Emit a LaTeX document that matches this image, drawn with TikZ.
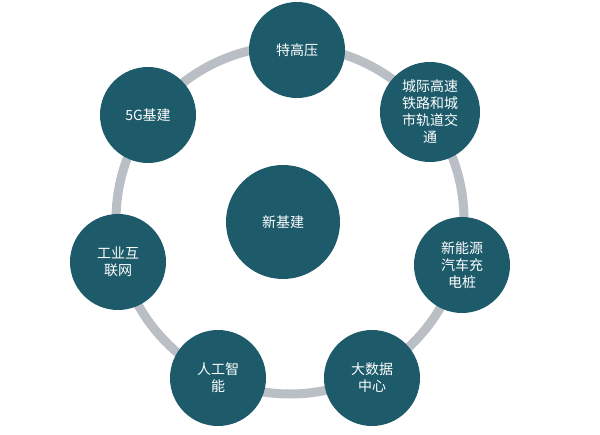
\documentclass[tikz,border=0pt]{standalone}
\usepackage{fontspec}
\setmainfont{Noto Sans CJK SC}
\definecolor{teal}{HTML}{1D5B6B}
\definecolor{ring}{HTML}{B9BFC4}
\tikzset{bub/.style={circle,fill=teal,text=white,minimum size=96pt,inner sep=0pt,align=center,font=\fontsize{14}{17}\selectfont}}
\begin{document}
\begin{tikzpicture}[x=1pt,y=-1pt]
\useasboundingbox (0,0) rectangle (600,435);
\fill[white] (0,0) rectangle (600,435);
\draw[ring,line width=9pt] (290,220) circle (174);
\node[bub,minimum size=114pt] (c) at (283,222) {新基建};
\node[bub] (a) at (297,50) {特高压};
\node[bub,minimum size=100pt] (b) at (430,112) {城际高速\\铁路和城\\市轨道交\\通};
\node[bub] (d) at (462,265) {新能源\\汽车充\\电桩};
\node[bub] (e) at (372,378) {大数据\\中心};
\node[bub] (f) at (218,378) {人工智\\能};
\node[bub] (g) at (118,262) {工业互\\联网};
\node[bub] (h) at (148,115) {5G基建};
\end{tikzpicture}
\end{document}
